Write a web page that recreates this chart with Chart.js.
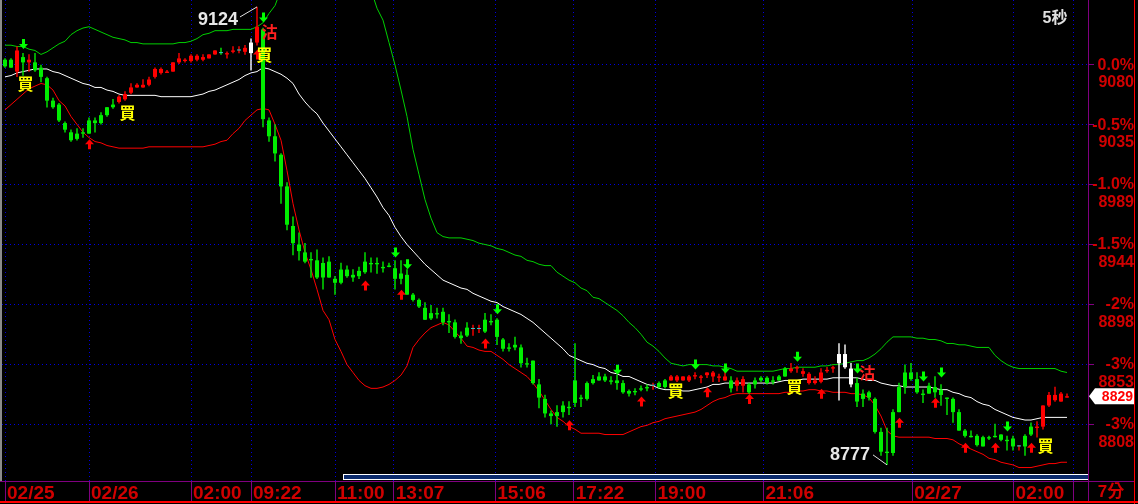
<!DOCTYPE html>
<html>
<head>
<meta charset="utf-8">
<title>K-line 7min</title>
<script src="https://cdn.jsdelivr.net/npm/chart.js@4.4.1/dist/chart.umd.min.js"></script>
<style>
  html, body { margin: 0; padding: 0; background: #000; overflow: hidden; }
  #chartBox { width: 1138px; height: 504px; }
</style>
</head>
<body>
<div id="chartBox"><canvas id="klineChart" width="1138" height="504"></canvas></div>
<script>
// candle values, one entry per 7 min bar
const opens = [
  9084, 9084, 9075, 9086, 9082, 9082, 9078, 9070, 9053, 9050,
  9036, 9029, 9028, 9029, 9038, 9038, 9042, 9048, 9050, 9052,
  9054, 9059, 9063, 9063, 9065, 9071, 9074, 9074, 9075, 9082,
  9083, 9083, 9084, 9084, 9085, 9088, 9089, 9088, 9090, 9091,
  9090, 9089, 9097, 9107, 9038, 9026, 9012, 8988, 8958, 8944,
  8938, 8933, 8932, 8930, 8931, 8918, 8925, 8925, 8921, 8924,
  8931, 8930, 8930, 8927, 8928, 8926, 8922, 8921, 8906, 8902,
  8896, 8892, 8892, 8893, 8886, 8885, 8875, 8881, 8880, 8880,
  8887, 8886, 8887, 8872, 8866, 8868, 8866, 8854, 8856, 8838,
  8827, 8816, 8817, 8822, 8821, 8841, 8828, 8839, 8842, 8844,
  8844, 8841, 8841, 8839, 8833, 8833, 8835, 8836, 8837, 8839,
  8841, 8841, 8841, 8841, 8841, 8844, 8843, 8845, 8844, 8843,
  8841, 8841, 8837, 8837, 8838, 8841, 8843, 8843, 8841, 8844,
  8850, 8848, 8850, 8846, 8839, 8839, 8840, 8848, 8850, 8854,
  8851, 8838, 8839, 8831, 8832, 8827, 8802, 8787, 8817, 8836,
  8847, 8847, 8842, 8831, 8837, 8836, 8834, 8828, 8827, 8817,
  8803, 8799, 8799, 8798, 8798, 8799, 8800, 8796, 8797, 8791,
  8799, 8806, 8805, 8806, 8822, 8826, 8825, 8828
];
const highs = [
  9085, 9085, 9094, 9089, 9088, 9089, 9080, 9071, 9055, 9051,
  9037, 9031, 9032, 9032, 9040, 9040, 9044, 9048, 9054, 9057,
  9060, 9066, 9066, 9069, 9071, 9078, 9078, 9076, 9082, 9089,
  9085, 9088, 9088, 9088, 9088, 9091, 9093, 9090, 9094, 9094,
  9095, 9100, 9124, 9108, 9040, 9035, 9013, 8991, 8965, 8953,
  8945, 8938, 8940, 8934, 8935, 8920, 8930, 8928, 8925, 8927,
  8938, 8934, 8934, 8931, 8930, 8932, 8932, 8925, 8907, 8903,
  8900, 8898, 8896, 8896, 8891, 8887, 8878, 8885, 8883, 8883,
  8892, 8891, 8888, 8873, 8869, 8874, 8868, 8858, 8856, 8842,
  8830, 8818, 8822, 8825, 8825, 8869, 8830, 8840, 8845, 8847,
  8846, 8844, 8845, 8841, 8834, 8835, 8837, 8838, 8839, 8840,
  8842, 8845, 8845, 8844, 8845, 8847, 8845, 8847, 8848, 8846,
  8850, 8844, 8843, 8844, 8839, 8843, 8844, 8844, 8844, 8845,
  8851, 8854, 8852, 8850, 8847, 8844, 8850, 8851, 8852, 8869,
  8868, 8854, 8843, 8834, 8833, 8828, 8805, 8805, 8819, 8839,
  8853, 8854, 8847, 8834, 8839, 8844, 8838, 8828, 8828, 8819,
  8804, 8803, 8800, 8799, 8799, 8808, 8800, 8799, 8799, 8792,
  8800, 8809, 8810, 8822, 8832, 8836, 8832, 8831
];
const lows = [
  9078, 9078, 9071, 9072, 9075, 9075, 9067, 9048, 9047, 9037,
  9029, 9022, 9023, 9025, 9028, 9029, 9035, 9041, 9047, 9051,
  9053, 9058, 9063, 9063, 9064, 9070, 9073, 9074, 9075, 9081,
  9082, 9082, 9083, 9083, 9085, 9088, 9088, 9085, 9089, 9089,
  9088, 9076, 9095, 9033, 9022, 9007, 8975, 8955, 8936, 8932,
  8930, 8919, 8918, 8910, 8919, 8906, 8914, 8919, 8916, 8918,
  8922, 8923, 8922, 8923, 8927, 8910, 8914, 8906, 8901, 8896,
  8887, 8887, 8888, 8883, 8877, 8873, 8869, 8874, 8875, 8877,
  8877, 8883, 8868, 8863, 8863, 8864, 8851, 8851, 8838, 8820,
  8813, 8808, 8806, 8813, 8815, 8821, 8821, 8826, 8838, 8841,
  8840, 8838, 8834, 8831, 8829, 8830, 8833, 8833, 8834, 8835,
  8835, 8841, 8840, 8841, 8840, 8842, 8839, 8843, 8840, 8840,
  8841, 8832, 8833, 8832, 8831, 8835, 8840, 8838, 8838, 8841,
  8844, 8847, 8847, 8844, 8838, 8838, 8839, 8847, 8847, 8826,
  8850, 8836, 8821, 8821, 8826, 8801, 8784, 8777, 8784, 8817,
  8831, 8841, 8831, 8824, 8831, 8828, 8822, 8815, 8809, 8803,
  8798, 8798, 8791, 8791, 8796, 8798, 8795, 8788, 8788, 8788,
  8784, 8799, 8798, 8804, 8821, 8825, 8825, 8828
];
const closes = [
  9079, 9078, 9091, 9082, 9084, 9076, 9071, 9053, 9048, 9038,
  9031, 9023, 9024, 9028, 9028, 9036, 9036, 9042, 9048, 9056,
  9058, 9063, 9065, 9065, 9069, 9077, 9077, 9075, 9082, 9085,
  9084, 9087, 9087, 9086, 9088, 9091, 9089, 9089, 9091, 9091,
  9093, 9097, 9109, 9039, 9026, 9013, 8988, 8959, 8945, 8939,
  8931, 8932, 8919, 8919, 8919, 8915, 8915, 8920, 8919, 8920,
  8923, 8929, 8929, 8926, 8927, 8918, 8918, 8906, 8902, 8897,
  8887, 8888, 8891, 8885, 8885, 8874, 8873, 8875, 8880, 8880,
  8878, 8885, 8874, 8865, 8865, 8866, 8854, 8853, 8839, 8828,
  8816, 8814, 8814, 8817, 8820, 8824, 8827, 8827, 8839, 8841,
  8841, 8840, 8839, 8832, 8831, 8832, 8834, 8835, 8837, 8836,
  8836, 8844, 8844, 8844, 8844, 8845, 8844, 8847, 8847, 8844,
  8844, 8835, 8841, 8842, 8832, 8838, 8841, 8839, 8840, 8841,
  8844, 8850, 8851, 8848, 8846, 8841, 8847, 8849, 8851, 8861,
  8861, 8850, 8825, 8827, 8828, 8802, 8787, 8786, 8786, 8817,
  8836, 8842, 8832, 8830, 8831, 8832, 8830, 8827, 8817, 8803,
  8799, 8798, 8792, 8791, 8797, 8798, 8796, 8795, 8791, 8791,
  8791, 8800, 8806, 8822, 8830, 8830, 8831, 8829
];
// bars the terminal paints white
const whiteBars = [41, 139, 140, 141];

// bollinger band
const upperBand = [
  9095, 9095, 9094, 9094, 9092, 9091, 9088, 9090, 9093, 9096,
  9098, 9103, 9106, 9108, 9109, 9107, 9105, 9103, 9101, 9100,
  9099, 9097, 9097, 9096, 9096, 9096, 9096, 9096, 9096, 9097,
  9097, 9098, 9100, 9103, 9104, 9106, 9106, 9106, 9107, 9107,
  9107, 9107, 9109, 9112, 9119, 9125, 9137, 9144, 9152, 9157,
  9163, 9169, 9173, 9175, 9173, 9171, 9169, 9166, 9161, 9154,
  9148, 9137, 9123, 9114, 9097, 9080, 9061, 9041, 9016, 8997,
  8978, 8964, 8953, 8950, 8949, 8949, 8949, 8948, 8947, 8945,
  8944, 8943, 8941, 8940, 8938, 8936, 8935, 8932, 8931, 8929,
  8928, 8928, 8923, 8920, 8917, 8915, 8911, 8909, 8904, 8903,
  8900, 8897, 8894, 8890, 8885, 8881, 8876, 8870, 8867, 8863,
  8858, 8854, 8853, 8852, 8853, 8853, 8853, 8853, 8852, 8852,
  8851, 8850, 8848, 8848, 8848, 8848, 8848, 8848, 8848, 8849,
  8850, 8850, 8851, 8851, 8851, 8851, 8852, 8852, 8853, 8853,
  8854, 8855, 8856, 8856, 8858, 8861, 8865, 8870, 8874, 8874,
  8874, 8874, 8873, 8873, 8872, 8872, 8871, 8869, 8869, 8868,
  8868, 8867, 8866, 8866, 8866, 8860, 8856, 8853, 8851, 8850,
  8850, 8850, 8850, 8850, 8850, 8850, 8848, 8847
];
const midBand = [
  9071, 9072, 9074, 9075, 9076, 9077, 9077, 9077, 9075, 9074,
  9072, 9070, 9068, 9066, 9065, 9063, 9063, 9061, 9060, 9058,
  9057, 9057, 9057, 9057, 9057, 9057, 9056, 9056, 9056, 9056,
  9056, 9056, 9057, 9058, 9060, 9061, 9063, 9065, 9067, 9069,
  9072, 9074, 9075, 9078, 9077, 9075, 9073, 9070, 9066, 9058,
  9052, 9047, 9043, 9036, 9030, 9024, 9018, 9012, 9006, 9000,
  8994, 8987, 8980, 8972, 8966, 8957, 8950, 8944, 8939, 8934,
  8929, 8925, 8921, 8917, 8915, 8913, 8911, 8910, 8907, 8905,
  8903, 8901, 8900, 8897, 8895, 8893, 8891, 8888, 8885, 8881,
  8877, 8873, 8869, 8865, 8860, 8858, 8856, 8854, 8853, 8851,
  8850, 8847, 8846, 8844, 8844, 8842, 8840, 8838, 8837, 8835,
  8834, 8834, 8834, 8833, 8833, 8834, 8835, 8836, 8838, 8838,
  8839, 8839, 8839, 8839, 8839, 8839, 8839, 8839, 8839, 8840,
  8841, 8841, 8841, 8842, 8842, 8842, 8842, 8842, 8843, 8843,
  8843, 8843, 8843, 8842, 8841, 8841, 8839, 8838, 8837, 8837,
  8836, 8836, 8836, 8836, 8836, 8835, 8834, 8834, 8832, 8831,
  8829, 8828, 8825, 8823, 8822, 8819, 8817, 8815, 8813, 8812,
  8811, 8811, 8812, 8813, 8813, 8813, 8813, 8813
];
const lowerBand = [
  9046, 9050, 9054, 9058, 9062, 9064, 9066, 9065, 9061, 9053,
  9049, 9041, 9035, 9029, 9025, 9022, 9021, 9019, 9018, 9017,
  9017, 9017, 9017, 9017, 9018, 9018, 9018, 9018, 9018, 9018,
  9018, 9018, 9018, 9018, 9019, 9020, 9022, 9023, 9028, 9032,
  9038, 9042, 9046, 9047, 9046, 9035, 9023, 9000, 8975, 8955,
  8938, 8925, 8910, 8894, 8887, 8872, 8863, 8853, 8847, 8841,
  8837, 8835, 8835, 8836, 8838, 8841, 8845, 8852, 8866, 8872,
  8877, 8881, 8883, 8885, 8883, 8878, 8873, 8867, 8866, 8864,
  8863, 8863, 8860, 8857, 8853, 8850, 8847, 8844, 8839, 8833,
  8826, 8819, 8813, 8810, 8806, 8804, 8801, 8801, 8801, 8801,
  8800, 8800, 8800, 8800, 8802, 8804, 8806, 8807, 8809, 8810,
  8812, 8813, 8814, 8815, 8816, 8817, 8819, 8822, 8825, 8827,
  8828, 8830, 8831, 8831, 8831, 8831, 8831, 8831, 8831, 8831,
  8832, 8832, 8833, 8833, 8834, 8834, 8833, 8833, 8832, 8832,
  8832, 8831, 8831, 8830, 8828, 8822, 8814, 8803, 8799, 8798,
  8798, 8798, 8798, 8798, 8798, 8797, 8797, 8797, 8796, 8793,
  8791, 8789, 8787, 8785, 8782, 8781, 8779, 8778, 8777, 8775,
  8775, 8775, 8776, 8777, 8778, 8778, 8779, 8779
];

// signals: [bar index, price]
const sellArrows = [[3, 9096], [43, 9116], [65, 8938], [67, 8929], [82, 8895], [102, 8849], [115, 8853],
  [120, 8850], [132, 8859], [142, 8850], [153, 8844], [156, 8847], [167, 8806]];
const buyArrows = [[14, 9020], [42, 9088], [60, 8913], [66, 8906], [80, 8869], [94, 8807], [106, 8825],
  [117, 8832], [124, 8827], [136, 8831], [149, 8809], [155, 8824], [160, 8790], [165, 8790], [171, 8790]];
const buyMarks = [[3.4, 9066], [20.4, 9044], [43.2, 9088], [111.8, 8833], [131.6, 8836], [173.4, 8791]];
const sellMarks = [[44.1, 9105], [143.7, 8847]];

// axes
const slotCount = 181;
const xTickPos = [0, 14, 31, 41, 55, 64.8, 81.7, 94.8, 108.4, 126.4, 151.2, 168.1, 178.1];
const xTickText = ['02/25', '02/26', '02:00', '09:22', '11:00', '13:07', '15:06', '17:22', '19:00', '21:06', '02/27', '02:00', ''];
const yTickValues = [9080, 9034.6, 8989.2, 8943.8, 8898.4, 8853, 8807.6];
const yTickPct = ['0.0%', '-0.5%', '-1.0%', '-1.5%', '-2%', '-3%', '-3%'];

const RED = '#ff0000';
const GREEN = '#00ee00';
const AXIS_RED = '#d00000';
const PURPLE = '#800080';

const barColor = (i) => {
  if (whiteBars.includes(i)) return '#ffffff';
  if (closes[i] > opens[i]) return RED;
  if (closes[i] < opens[i]) return GREEN;
  return '#33cccc';
};
const wickColor = (i) => {
  if (whiteBars.includes(i)) return '#ffffff';
  if (closes[i] !== opens[i]) return barColor(i);
  return i > 0 && closes[i] >= closes[i - 1] ? RED : GREEN;
};

function drawArrow(ctx, cx, cy, dir, color) {
  // dir < 0 points down, dir > 0 points up
  ctx.fillStyle = color;
  ctx.beginPath();
  if (dir < 0) {
    ctx.rect(cx - 1, cy - 5, 3, 5);
    ctx.moveTo(cx - 4, cy);
    ctx.lineTo(cx + 0.5, cy + 5);
    ctx.lineTo(cx + 5, cy);
  } else {
    ctx.moveTo(cx - 4, cy);
    ctx.lineTo(cx + 0.5, cy - 5);
    ctx.lineTo(cx + 5, cy);
    ctx.rect(cx - 1, cy, 3, 5);
  }
  ctx.fill();
}

const overlayPlugin = {
  id: 'overlay',
  beforeDraw(chart) {
    const { ctx, width, height } = chart;
    ctx.save();
    ctx.fillStyle = '#000';
    ctx.fillRect(0, 0, width, height);
    ctx.restore();
  },
  afterDatasetsDraw(chart) {
    const { ctx, scales: { x, y } } = chart;
    ctx.save();
    sellArrows.forEach(([i, p]) => drawArrow(ctx, x.getPixelForValue(i), y.getPixelForValue(p), -1, '#00ff00'));
    buyArrows.forEach(([i, p]) => drawArrow(ctx, x.getPixelForValue(i), y.getPixelForValue(p), 1, RED));

    ctx.textAlign = 'center';
    ctx.textBaseline = 'middle';
    ctx.font = 'bold 16px "Noto Sans CJK TC"';
    ctx.fillStyle = '#ffff00';
    buyMarks.forEach(([i, p]) => ctx.fillText('買', x.getPixelForValue(i), y.getPixelForValue(p)));
    ctx.fillStyle = '#ff2020';
    sellMarks.forEach(([i, p]) => ctx.fillText('沽', x.getPixelForValue(i), y.getPixelForValue(p)));

    // highest high / lowest low labels
    const hiIdx = highs.indexOf(Math.max(...highs));
    const loIdx = lows.indexOf(Math.min(...lows));
    const hx = x.getPixelForValue(hiIdx), hy = y.getPixelForValue(highs[hiIdx]);
    const lx = x.getPixelForValue(loIdx), ly = y.getPixelForValue(lows[loIdx]);
    ctx.strokeStyle = '#e0e0e0';
    ctx.lineWidth = 1;
    ctx.beginPath();
    ctx.moveTo(hx, hy);
    ctx.lineTo(hx - 17, hy + 10);
    ctx.moveTo(lx, ly);
    ctx.lineTo(lx - 14, ly - 10);
    ctx.stroke();
    ctx.fillStyle = '#e8e8e8';
    ctx.font = 'bold 18px "Liberation Sans", Arial';
    ctx.textAlign = 'right';
    ctx.fillText(String(highs[hiIdx]), hx - 19, hy + 13);
    ctx.fillText(String(lows[loIdx]), lx - 17, ly - 10);
    ctx.restore();
  },
  afterDraw(chart) {
    const { ctx, scales: { y } } = chart;
    ctx.save();
    // scroll bar
    ctx.fillStyle = '#0b2a6c';
    ctx.fillRect(343, 474, 745, 6);
    ctx.strokeStyle = '#ffffff';
    ctx.lineWidth = 1;
    ctx.strokeRect(343.5, 474.5, 745, 5);

    // frame
    ctx.fillStyle = '#8a8a8a';
    ctx.fillRect(0, 0, 2, 481);
    ctx.strokeStyle = PURPLE;
    ctx.beginPath();
    ctx.moveTo(0, 481.5);
    ctx.lineTo(1134, 481.5);
    ctx.moveTo(1088.5, 0);
    ctx.lineTo(1088.5, 501);
    ctx.stroke();
    ctx.fillStyle = RED;
    ctx.fillRect(1134, 0, 1, 504);
    ctx.fillRect(0, 501, 1138, 2);

    // last price tag
    const last = closes[closes.length - 1];
    const py = y.getPixelForValue(last);
    ctx.fillStyle = '#ffffff';
    ctx.beginPath();
    ctx.moveTo(1089, py);
    ctx.lineTo(1095, py - 8);
    ctx.lineTo(1134, py - 8);
    ctx.lineTo(1134, py + 8);
    ctx.lineTo(1095, py + 8);
    ctx.closePath();
    ctx.fill();
    ctx.fillStyle = RED;
    ctx.font = 'bold 14px "Liberation Sans", Arial';
    ctx.textAlign = 'right';
    ctx.textBaseline = 'middle';
    ctx.fillText(String(last), 1133, py + 1);

    // period captions
    ctx.fillStyle = '#e0e0e0';
    ctx.font = 'bold 16px "Liberation Sans", "Noto Sans CJK TC"';
    ctx.textAlign = 'center';
    ctx.fillText('5秒', 1055, 19);
    ctx.fillStyle = AXIS_RED;
    ctx.font = 'bold 17px "Liberation Sans", "Noto Sans CJK TC"';
    ctx.fillText('7分', 1111, 492);
    ctx.restore();
  }
};

const labels = Array.from({ length: slotCount }, (_, i) => i);

new Chart(document.getElementById('klineChart'), {
  type: 'bar',
  data: {
    labels,
    datasets: [
      {
        label: 'body',
        data: opens.map((o, i) => [o, closes[i]]),
        backgroundColor: opens.map((_, i) => barColor(i)),
        barThickness: 4,
        minBarLength: 1,
        inflateAmount: 0,
        grouped: false,
        order: 1
      },
      {
        label: 'wick',
        data: lows.map((l, i) => [l, highs[i]]),
        backgroundColor: lows.map((_, i) => wickColor(i)),
        barThickness: 1,
        inflateAmount: 0.2,
        grouped: false,
        order: 2
      },
      { type: 'line', label: 'upper', data: upperBand, borderColor: '#00d000', borderWidth: 1, pointRadius: 0, order: 3 },
      { type: 'line', label: 'mid', data: midBand, borderColor: '#ffffff', borderWidth: 1, pointRadius: 0, order: 3 },
      { type: 'line', label: 'lower', data: lowerBand, borderColor: '#ff0000', borderWidth: 1, pointRadius: 0, order: 3 }
    ]
  },
  options: {
    responsive: false,
    animation: false,
    events: [],
    layout: { padding: { left: 2, right: 4, top: 0, bottom: 0 } },
    plugins: { legend: { display: false }, tooltip: { enabled: false } },
    scales: {
      x: {
        type: 'category',
        offset: true,
        afterBuildTicks: (scale) => { scale.ticks = xTickPos.map((v) => ({ value: v })); },
        afterFit: (scale) => { scale.height = 23; scale.paddingLeft = 0; scale.paddingRight = 0; },
        grid: { offset: false, color: '#0000e0', tickColor: PURPLE, tickLength: 20, lineWidth: 1 },
        border: { color: PURPLE, dash: [1, 3] },
        ticks: {
          autoSkip: false,
          maxRotation: 0,
          minRotation: 0,
          align: 'start',
          labelOffset: 2,
          padding: -19,
          color: AXIS_RED,
          font: { family: '"Liberation Sans", Arial', size: 19, weight: 'bold' },
          callback: (v, i) => xTickText[i]
        }
      },
      y: {
        position: 'right',
        min: 8764.8,
        max: 9129.25,
        afterBuildTicks: (scale) => { scale.ticks = yTickValues.map((v) => ({ value: v })); },
        afterFit: (scale) => { scale.width = 46; scale.paddingTop = 0; scale.paddingBottom = 0; },
        grid: { color: '#0000e0', tickColor: PURPLE, tickLength: 6, lineWidth: 1 },
        border: { color: PURPLE, dash: [1, 3] },
        ticks: {
          autoSkip: false,
          crossAlign: 'far',
          labelOffset: 9,
          padding: 0,
          color: AXIS_RED,
          font: { family: '"Liberation Sans", Arial', size: 16, weight: 'bold', lineHeight: 1.1 },
          callback: (v, i) => [yTickPct[i], String(Math.round(yTickValues[i]))]
        }
      }
    }
  },
  plugins: [overlayPlugin]
});
</script>
</body>
</html>
